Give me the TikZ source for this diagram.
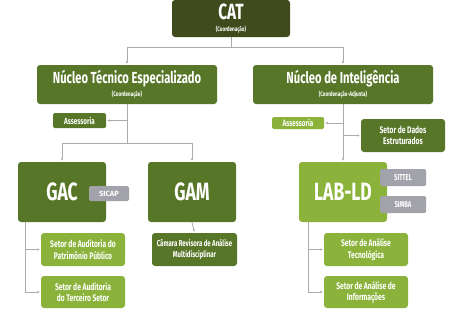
\documentclass[tikz,border=0pt]{standalone}
\usepackage{fontspec}
\setmainfont{Fira Sans}[FakeStretch=0.7]
\newfontfamily\pillfont{Fira Sans}
\usetikzlibrary{arrows.meta}

\definecolor{catgreen}{HTML}{3F4B1C}
\definecolor{darkgreen}{HTML}{587628}
\definecolor{lightgreen}{HTML}{8BB33B}
\definecolor{pillgray}{HTML}{A2A2AA}
\definecolor{linegray}{HTML}{ABABAB}

\tikzset{
  box/.style={rounded corners=3pt, text=white, align=center, inner sep=0pt, font=\bfseries},
  pill/.style={rounded corners=1.5pt, fill=pillgray, text=white, inner sep=0pt,
    font=\bfseries\fontsize{8.5}{9}\selectfont},
  wire/.style={draw=linegray, line width=0.8pt},
  conn/.style={wire, -{Latex[length=2.5pt,width=2.5pt]}, shorten >=1pt}
}

\newcommand{\hugetxt}[1]{{\fontsize{25}{26}\selectfont #1}}
\newcommand{\titletxt}[1]{{\fontsize{16}{17}\selectfont #1}}
\newcommand{\subtxt}[1]{{\fontsize{6.5}{7}\selectfont #1}}

\begin{document}
\begin{tikzpicture}[x=1pt,y=-1pt]
  \useasboundingbox (0,0) rectangle (450,316);

  % top level
  \node[box, fill=catgreen, minimum width=118pt, minimum height=37pt] (cat) at (231,18.5)
    {{\fontsize{22}{22}\selectfont CAT}\\[0pt]\subtxt{(Coordenação)}};
  \node[box, fill=darkgreen, minimum width=180pt, minimum height=39pt] (nte) at (127,84.5)
    {\titletxt{Núcleo Técnico Especializado}\\[1pt]\subtxt{(Coordenação)}};
  \node[box, fill=darkgreen, minimum width=180pt, minimum height=39pt] (ni) at (343,84.5)
    {\titletxt{Núcleo de Inteligência}\\[1pt]\subtxt{(Coordenação-Adjunta)}};

  % left branch
  \node[box, fill=darkgreen, rounded corners=1.5pt, minimum width=53pt, minimum height=15pt,
    font=\bfseries\fontsize{9}{9}\selectfont] (asl) at (79.5,120.5) {Assessoria};
  \node[box, fill=darkgreen, minimum width=88pt, minimum height=60pt] (gac) at (62,192) {\hugetxt{GAC}};
  \node[box, fill=darkgreen, minimum width=88pt, minimum height=60pt] (gam) at (192,192) {\hugetxt{GAM}};
  \node[pill, minimum width=40pt, minimum height=15pt, font=\pillfont\bfseries\fontsize{7.5}{8}\selectfont]
    (sicap) at (109,193.5) {SICAP};
  \node[box, fill=darkgreen, minimum width=85pt, minimum height=33pt,
    font=\bfseries\fontsize{8.6}{11}\selectfont] (cam) at (194.5,249.5)
    {Câmara Revisora de Análise\\Multidisciplinar};
  \node[box, fill=lightgreen, minimum width=84pt, minimum height=33pt,
    font=\bfseries\fontsize{9.6}{11.5}\selectfont] (sap) at (83,249.5)
    {Setor de Auditoria do\\Patrimônio Público};
  \node[box, fill=lightgreen, minimum width=84pt, minimum height=32pt,
    font=\bfseries\fontsize{9.6}{11.5}\selectfont] (sts) at (83,292)
    {Setor de Auditoria\\do Terceiro Setor};

  % right branch
  \node[box, fill=lightgreen, rounded corners=1.5pt, minimum width=52pt, minimum height=12pt,
    font=\bfseries\fontsize{9}{9}\selectfont] (asr) at (298,123) {Assessoria};
  \node[box, fill=darkgreen, minimum width=84pt, minimum height=33pt,
    font=\bfseries\fontsize{9.6}{11.5}\selectfont] (sde) at (403,135.5)
    {Setor de Dados\\Estruturados};
  \node[box, fill=lightgreen, minimum width=88pt, minimum height=60pt] (lab) at (343,192) {\hugetxt{LAB-LD}};
  \node[pill, minimum width=46pt, minimum height=17pt] (sittel) at (403,177.5) {SITTEL};
  \node[pill, minimum width=46pt, minimum height=17pt] (simba) at (403,204.5) {SIMBA};
  \node[box, fill=lightgreen, minimum width=84pt, minimum height=33pt,
    font=\bfseries\fontsize{9.6}{11.5}\selectfont] (sat) at (366,249.5)
    {Setor de Análise\\Tecnológica};
  \node[box, fill=lightgreen, minimum width=84pt, minimum height=32pt,
    font=\bfseries\fontsize{9.6}{11.5}\selectfont] (sai) at (366,292)
    {Setor de Análise de\\Informações};

  % connectors
  \draw[conn] (cat.south) -- ++(0,10) -| (nte.north);
  \draw[conn] (cat.south) -- ++(0,10) -| (ni.north);

  \draw[wire] (nte.south) -- ++(0,39) coordinate (nsplit);
  \draw[conn] (nsplit) -| (gac.north);
  \draw[conn] (nsplit) -| (gam.north);
  \draw[conn] (nte.south |- asl.east) -- (asl.east);
  \draw[conn] (gam.south) -- (cam.north);
  \coordinate (gtrunk) at ([xshift=8pt]gac.south west);
  \draw[conn] (gtrunk) |- (sap.west);
  \draw[conn] (gtrunk) |- (sts.west);

  \draw[conn] (ni.south) -- (lab.north);
  \draw[conn] (ni.south |- asr.east) -- (asr.east);
  \draw[conn] (ni.south |- sde.west) -- (sde.west);
  \coordinate (ltrunk) at ([xshift=10pt]lab.south west);
  \draw[conn] (ltrunk) |- (sat.west);
  \draw[conn] (ltrunk) |- (sai.west);
\end{tikzpicture}
\end{document}
